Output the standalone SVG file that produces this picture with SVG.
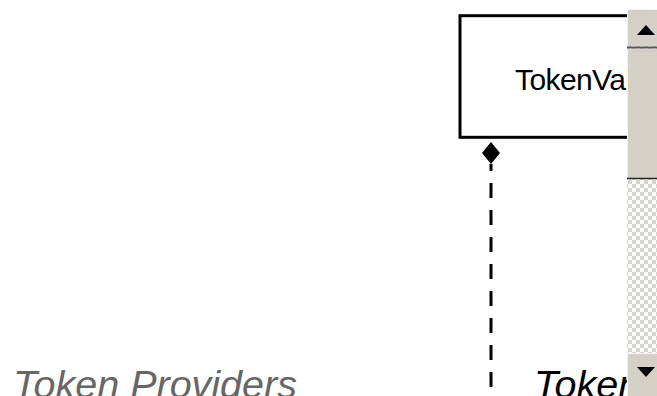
<svg xmlns="http://www.w3.org/2000/svg" width="657" height="396" viewBox="0 0 657 396">
<defs>
<style>
.lbl{font-family:"Liberation Sans",Arial,sans-serif}
.big{font-size:39.5px;font-style:italic}
.box{fill:#fff;stroke:#000;stroke-width:3}
.conn{stroke:#000;stroke-width:3;fill:none}
.sb{fill:#d4d0c8}
</style>
<pattern id="chk" x="0" y="0" width="8" height="8" patternUnits="userSpaceOnUse">
<rect width="8" height="8" fill="#ffffff"/>
<rect width="4" height="4" fill="#d8d5ce"/>
<rect x="4" y="4" width="4" height="4" fill="#d8d5ce"/>
</pattern>
</defs>
<rect width="657" height="396" fill="#fff"/>
<g id="token-providers-title">
<text class="lbl big" x="13" y="398" fill="#666666">Token Providers</text>
</g>
<g id="tokens-title">
<text class="lbl big" x="534" y="398" fill="#000">Token</text>
</g>
<g id="tokenvalue-node">
<rect class="box" x="460" y="15.7" width="260" height="121.6"/>
<text class="lbl" x="515" y="90" font-size="30" letter-spacing="-0.6" fill="#000">TokenValue</text>
</g>
<g id="connectors">
<path d="M491 142 L500 153 L491 164 L482 153 Z" fill="#000"/>
<line class="conn" x1="491" y1="164" x2="491" y2="396" stroke-dasharray="15 12" stroke-dashoffset="8"/>
</g>
<g id="scrollbar">
<rect x="627" y="9" width="40" height="387" fill="url(#chk)"/>
<rect class="sb" x="627" y="9" width="40" height="37"/>
<line x1="627.5" y1="9" x2="627.5" y2="46" stroke="#f4f3f0"/>
<line x1="627" y1="9.5" x2="667" y2="9.5" stroke="#f4f3f0"/>
<line x1="627" y1="47.5" x2="667" y2="47.5" stroke="#555" stroke-width="2"/>
<path d="M646 25 L655 35 L637 35 Z" fill="#000"/>
<rect class="sb" x="627" y="49" width="40" height="129"/>
<line x1="627.5" y1="49" x2="627.5" y2="178" stroke="#f4f3f0"/>
<line x1="627" y1="178.5" x2="667" y2="178.5" stroke="#222" stroke-width="1.5"/>
<rect class="sb" x="627" y="353" width="40" height="43"/>
<line x1="627.5" y1="353" x2="627.5" y2="396" stroke="#f4f3f0"/>
<line x1="627" y1="353.5" x2="667" y2="353.5" stroke="#f4f3f0"/>
<path d="M637 367 L655 367 L646 377 Z" fill="#000"/>
</g>
</svg>
